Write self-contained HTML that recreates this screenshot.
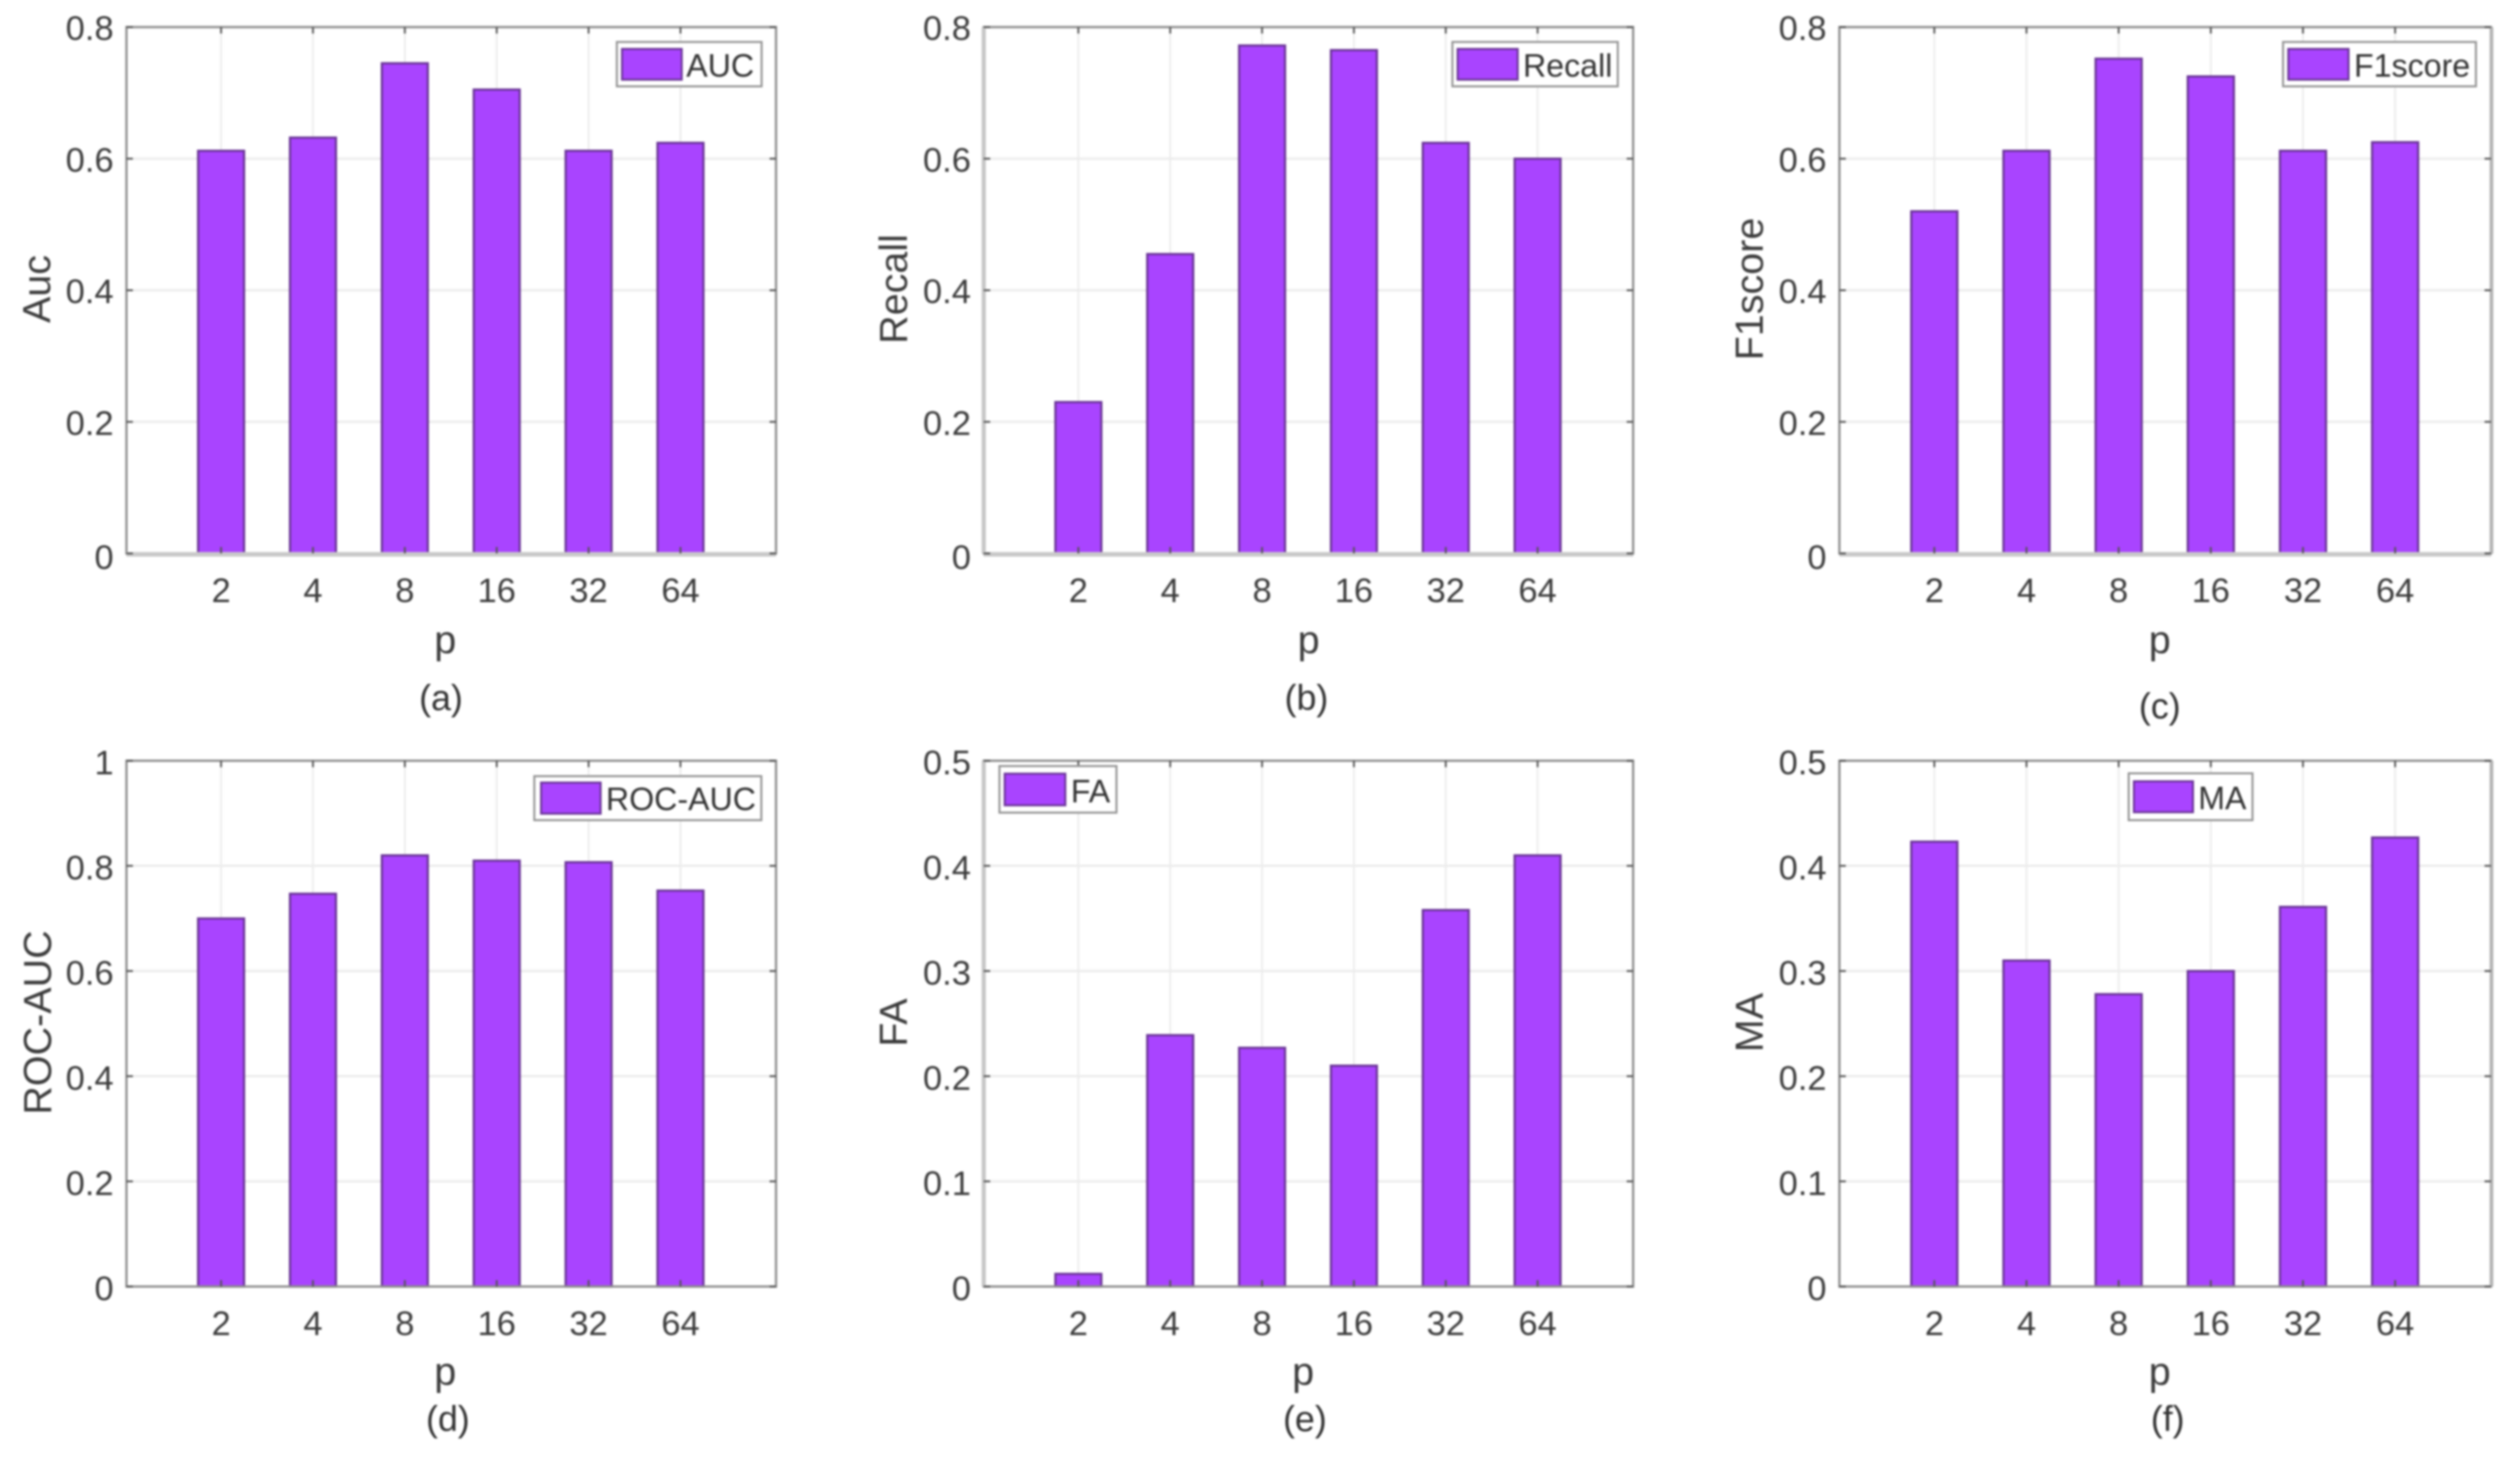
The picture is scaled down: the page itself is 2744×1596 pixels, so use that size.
<!DOCTYPE html>
<html lang="en">
<head>
<meta charset="utf-8">
<title>Metrics versus p</title>
<style>
html,body{margin:0;padding:0;background:#fff;width:2744px;height:1596px;overflow:hidden}
svg{display:block;filter:blur(1px)}
text{font-family:"Liberation Sans",Arial,sans-serif}
</style>
</head>
<body>
<svg id="figure" xmlns="http://www.w3.org/2000/svg" width="2744" height="1596" viewBox="0 0 2744 1596"></svg>
<script>
const categories = ['2', '4', '8', '16', '32', '64'];
const aucValues = [0.612, 0.632, 0.745, 0.705, 0.612, 0.624];
const recallValues = [0.23, 0.455, 0.772, 0.765, 0.624, 0.6];
const f1scoreValues = [0.52, 0.612, 0.752, 0.725, 0.612, 0.625];
const rocAucValues = [0.7, 0.747, 0.82, 0.81, 0.807, 0.753];
const faValues = [0.012, 0.239, 0.227, 0.21, 0.358, 0.41];
const maValues = [0.423, 0.31, 0.278, 0.3, 0.361, 0.427];
const ticksTo08 = [0, 0.2, 0.4, 0.6, 0.8];
const ticksTo1 = [0, 0.2, 0.4, 0.6, 0.8, 1];
const ticksTo05 = [0, 0.1, 0.2, 0.3, 0.4, 0.5];

const panels = [
  {id: 'a', ylabel: 'Auc', legend: 'AUC', values: aucValues, ticks: ticksTo08, left: 137.7, right: 845, top: 29.5, bottom: 602.5, thickBase: true, lightLeft: false, lightRight: false,
   ylabelX: 54.5, ylabelY: 314.6, pX: 484.8, pY: 711, capX: 480.2, capY: 773,
   box: [671.7, 45.7, 157.6, 48.3], swatch: [677.3, 53.3, 65, 33.4], legendTextX: 747.3, legendTextY: 83.3},
  {id: 'b', ylabel: 'Recall', legend: 'Recall', values: recallValues, ticks: ticksTo08, left: 1071.2, right: 1778.3, top: 29.5, bottom: 602.5, thickBase: true, lightLeft: true, lightRight: false,
   ylabelX: 987.7, ylabelY: 314.6, pX: 1424.9, pY: 711, capX: 1422.6, capY: 773,
   box: [1581.5, 45.7, 180.1, 48.3], swatch: [1587.2, 53.3, 65.4, 33.4], legendTextX: 1658.4, legendTextY: 83.3},
  {id: 'c', ylabel: 'F1score', legend: 'F1score', values: f1scoreValues, ticks: ticksTo08, left: 2002.9, right: 2712.4, top: 29.5, bottom: 602.5, thickBase: true, lightLeft: false, lightRight: true,
   ylabelX: 1919.7, ylabelY: 314.6, pX: 2351.7, pY: 711, capX: 2351.7, capY: 782,
   box: [2486, 45.7, 210, 48.3], swatch: [2491.7, 53.3, 65.6, 33.4], legendTextX: 2563.3, legendTextY: 83.3},
  {id: 'd', ylabel: 'ROC-AUC', legend: 'ROC-AUC', values: rocAucValues, ticks: ticksTo1, left: 137.7, right: 845, top: 828.2, bottom: 1400.6, thickBase: false, lightLeft: false, lightRight: false,
   ylabelX: 55.6, ylabelY: 1113.2, pX: 484.8, pY: 1507.5, capX: 487.7, capY: 1558,
   box: [581.8, 845, 247.2, 47.9], swatch: [589.2, 852, 64.8, 33.8], legendTextX: 659.8, legendTextY: 882},
  {id: 'e', ylabel: 'FA', legend: 'FA', values: faValues, ticks: ticksTo05, left: 1071.2, right: 1778.3, top: 828.2, bottom: 1400.6, thickBase: false, lightLeft: true, lightRight: false,
   ylabelX: 987.7, ylabelY: 1113.2, pX: 1419, pY: 1507.5, capX: 1420.9, capY: 1558,
   box: [1088.3, 834, 127.4, 50.7], swatch: [1094, 842.3, 66, 34.4], legendTextX: 1166, legendTextY: 873.3},
  {id: 'f', ylabel: 'MA', legend: 'MA', values: maValues, ticks: ticksTo05, left: 2002.9, right: 2712.4, top: 828.2, bottom: 1400.6, thickBase: false, lightLeft: false, lightRight: true,
   ylabelX: 1919.7, ylabelY: 1113.2, pX: 2351.7, pY: 1507.5, capX: 2360.4, capY: 1558,
   box: [2317.9, 841.9, 134.8, 51], swatch: [2323.6, 850.6, 64.3, 33.6], legendTextX: 2393.6, legendTextY: 881}
];

const SVG_NS = 'http://www.w3.org/2000/svg';
const figure = document.getElementById('figure');

function draw(parent, tag, attrs, content) {
  const node = document.createElementNS(SVG_NS, tag);
  for (const key in attrs) node.setAttribute(key, attrs[key]);
  if (content !== undefined) node.textContent = content;
  parent.appendChild(node);
  return node;
}

panels.forEach(function (panel) {
  const width = panel.right - panel.left;
  const yMax = panel.ticks[panel.ticks.length - 1];
  const xScale = function (index) { return panel.left + width * (index + 1.03) / 7.07; };
  const yScale = function (value) { return panel.bottom - (panel.bottom - panel.top) * value / yMax; };
  const barWidth = width * 0.5 / 7.07;

  const group = draw(figure, 'g', {});
  
  

  panel.ticks.forEach(function (tick) {
    const y = yScale(tick);
    if (tick !== 0 && tick !== yMax) {
      const grid = draw(group, 'line', {x1: panel.left, x2: panel.right, y1: y, y2: y, stroke: '#ececec', 'stroke-width': 2.5});
      
      
    }
  });

  categories.forEach(function (category, index) {
    const x = xScale(index);
    const grid = draw(group, 'line', {x1: x, x2: x, y1: panel.top, y2: panel.bottom, stroke: '#ececec', 'stroke-width': 2});
    
    
  });

  panel.values.forEach(function (value, index) {
    const y = yScale(value);
    const bar = draw(group, 'rect', {x: xScale(index) - barWidth / 2, y: y, width: barWidth, height: panel.bottom - y, fill: '#a944ff', stroke: '#6a3596', 'stroke-width': 2.4});
    
    
  });

  if (panel.thickBase) {
    const base = draw(group, 'line', {x1: panel.left, x2: panel.right, y1: panel.bottom + 1, y2: panel.bottom + 1, stroke: '#c9c9c9', 'stroke-width': 5});
    
    
  }

  const frame = draw(group, 'rect', {x: panel.left, y: panel.top, width: width, height: panel.bottom - panel.top, fill: 'none', stroke: '#8f8f8f', 'stroke-width': 2.5});
  
  

  if (panel.lightLeft) {
    const leftEdge = draw(group, 'line', {x1: panel.left, x2: panel.left, y1: panel.top, y2: panel.bottom, stroke: '#c6c6c6', 'stroke-width': 4.5});
    
    
  }

  if (panel.lightRight) {
    const rightEdge = draw(group, 'line', {x1: panel.right + 0.5, x2: panel.right + 0.5, y1: panel.top, y2: panel.bottom, stroke: '#b4b4b4', 'stroke-width': 4});
    
    
  }

  if (panel.thickBase) {
    const baseCover = draw(group, 'line', {x1: panel.left, x2: panel.right, y1: panel.bottom + 1, y2: panel.bottom + 1, stroke: '#c9c9c9', 'stroke-width': 5});
    
    
  }

  categories.forEach(function (category, index) {
    const x = xScale(index);
    const tickMark = draw(group, 'path', {d: 'M' + x + ' ' + panel.bottom + 'v-7M' + x + ' ' + panel.top + 'v7', stroke: '#555', 'stroke-width': 2, fill: 'none'});
    
    

    const label = draw(group, 'text', {x: x, y: panel.bottom + 53, 'text-anchor': 'middle', 'font-size': 37.5, fill: '#3c3c3c'}, category);
    
    
  });

  panel.ticks.forEach(function (tick) {
    const y = yScale(tick);
    const tickMark = draw(group, 'path', {d: 'M' + panel.left + ' ' + y + 'h7M' + panel.right + ' ' + y + 'h-7', stroke: '#555', 'stroke-width': 2, fill: 'none'});
    
    

    const baselineShift = panel.thickBase ? (tick === 0 ? 17 : 14) : 15;
    const label = draw(group, 'text', {x: panel.left - 14, y: y + baselineShift, 'text-anchor': 'end', 'font-size': 37.5, fill: '#3c3c3c'}, String(tick));
    
    
  });

  const yTitle = draw(group, 'text', {x: panel.ylabelX, y: panel.ylabelY, 'text-anchor': 'middle', 'font-size': 43, fill: '#3c3c3c', transform: 'rotate(-90 ' + panel.ylabelX + ' ' + panel.ylabelY + ')'}, panel.ylabel);
  
  

  const xTitle = draw(group, 'text', {x: panel.pX, y: panel.pY, 'text-anchor': 'middle', 'font-size': 43, fill: '#3c3c3c'}, 'p');
  
  

  const caption = draw(group, 'text', {x: panel.capX, y: panel.capY, 'text-anchor': 'middle', 'font-size': 39, fill: '#333'}, '(' + panel.id + ')');
  
  

  const legend = draw(group, 'g', {});
  
  

  const legendBox = draw(legend, 'rect', {x: panel.box[0], y: panel.box[1], width: panel.box[2], height: panel.box[3], fill: '#fff', stroke: '#949494', 'stroke-width': 2.2});
  
  

  const legendSwatch = draw(legend, 'rect', {x: panel.swatch[0], y: panel.swatch[1], width: panel.swatch[2], height: panel.swatch[3], fill: '#a944ff', stroke: '#6a3596', 'stroke-width': 2.2});
  
  

  const legendText = draw(legend, 'text', {x: panel.legendTextX, y: panel.legendTextY, 'font-size': 35, fill: '#333'}, panel.legend);
  
  
});
</script>
</body>
</html>
